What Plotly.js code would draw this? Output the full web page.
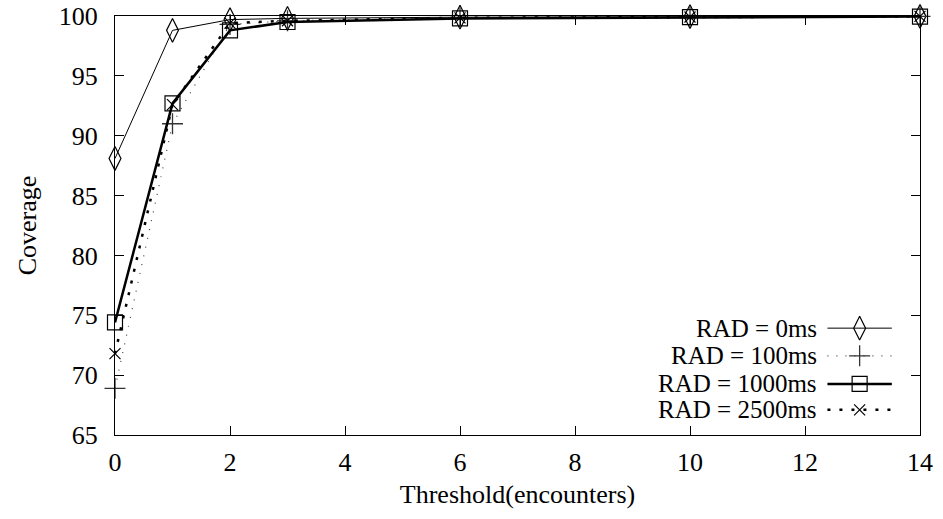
<!DOCTYPE html>
<html>
<head>
<meta charset="utf-8">
<script src="https://cdn.plot.ly/plotly-3.0.1.min.js"></script>
<style>html,body{margin:0;padding:0;background:#fff;}</style>
</head>
<body>
<div id="chart" style="width:943px;height:519px;"></div>
<script>
// Data
const thresholds = [0, 1, 2, 3, 6, 10, 14];
const rad0 = [88.1, 98.8, 99.7, 99.8, 99.9, 99.95, 99.97];
const rad100 = [68.9, 91.0, 99.3, 99.6, 99.85, 99.95, 99.97];
const rad1000 = [74.4, 92.7, 98.8, 99.5, 99.8, 99.9, 99.95];
const rad2500 = [71.8, 92.6, 99.4, 99.6, 99.85, 99.92, 99.97];
const seriesNames = ['RAD = 0ms', 'RAD = 100ms', 'RAD = 1000ms', 'RAD = 2500ms'];
const xTicks = [0, 2, 4, 6, 8, 10, 12, 14];
const yTicks = [65, 70, 75, 80, 85, 90, 95, 100];

const styles = [
  {line: {color: '#000', width: 1, dash: 'solid'}, marker: {symbol: 'diamond-tall-open', size: 17, color: '#000', line: {width: 1.2}}},
  {line: {color: '#444', width: 1.2, dash: '1px,8px'}, marker: {symbol: 'cross-thin-open', size: 15, color: '#333', line: {width: 1.3, color: '#333'}}},
  {line: {color: '#000', width: 2.5, dash: 'solid'}, marker: {symbol: 'square-open', size: 15, color: '#000', line: {width: 1.2}}},
  {line: {color: '#000', width: 2.5, dash: '3px,9px'}, marker: {symbol: 'x-thin-open', size: 11, color: '#000', line: {width: 1.2, color: '#000'}}}
];
const seriesData = [rad0, rad100, rad1000, rad2500];

const traces = seriesData.map((ys, i) => ({
  x: thresholds, y: ys, type: 'scatter', mode: 'lines+markers',
  name: seriesNames[i], line: styles[i].line, marker: styles[i].marker,
  showlegend: false, cliponaxis: false
}));

// Custom legend (keys to the right of the text, gnuplot style)
const legendRows = [0.255, 0.189, 0.122, 0.060]; // fraction of plot height
const keyX0 = 0.885, keyX1 = 0.965, keyMid = 0.925;
seriesData.forEach((_, i) => {
  traces.push({
    x: [keyX0, keyX1], y: [legendRows[i], legendRows[i]],
    xaxis: 'x2', yaxis: 'y2', type: 'scatter', mode: 'lines',
    line: styles[i].line, showlegend: false, hoverinfo: 'skip', cliponaxis: false
  });
  traces.push({
    x: [keyMid], y: [legendRows[i]],
    xaxis: 'x2', yaxis: 'y2', type: 'scatter', mode: 'markers',
    marker: styles[i].marker, showlegend: false, hoverinfo: 'skip', cliponaxis: false
  });
});

const fam = 'Liberation Serif, DejaVu Serif, serif';
const tickFont = {family: fam, size: 26, color: '#000'};
const titleFont = {family: fam, size: 26, color: '#000'};
const legFont = {family: fam, size: 25, color: '#000'};

const annotations = seriesNames.map((n, i) => ({
  xref: 'x2', yref: 'y2', x: 0.872, y: legendRows[i], text: n,
  showarrow: false, xanchor: 'right', yanchor: 'middle', font: legFont,
  borderpad: 0, borderwidth: 0
}));

const layout = {
  width: 943, height: 519,
  margin: {l: 115, r: 23, t: 16, b: 84},
  paper_bgcolor: '#fff', plot_bgcolor: '#fff',
  font: tickFont,
  xaxis: {
    range: [0, 14], tickvals: xTicks, ticktext: xTicks.map(String),
    ticks: 'inside', ticklen: 9, tickcolor: '#000', tickwidth: 1,
    showline: true, linecolor: '#000', linewidth: 1, mirror: 'ticks',
    showgrid: false, zeroline: false, ticklabelstandoff: 4,
    title: {text: 'Threshold(encounters)', font: titleFont, standoff: 8},
    tickfont: tickFont
  },
  yaxis: {
    range: [65, 100], tickvals: yTicks, ticktext: yTicks.map(String),
    ticks: 'inside', ticklen: 9, tickcolor: '#000', tickwidth: 1,
    showline: true, linecolor: '#000', linewidth: 1, mirror: 'ticks',
    showgrid: false, zeroline: false, ticklabelstandoff: 11,
    title: {text: 'Coverage', font: titleFont, standoff: 14},
    tickfont: tickFont
  },
  xaxis2: {range: [0, 1], overlaying: 'x', visible: false, fixedrange: true},
  yaxis2: {range: [0, 1], overlaying: 'y', visible: false, fixedrange: true},
  annotations: annotations,
  showlegend: false
};

Plotly.newPlot('chart', traces, layout, {displayModeBar: false, staticPlot: true});
</script>
</body>
</html>
